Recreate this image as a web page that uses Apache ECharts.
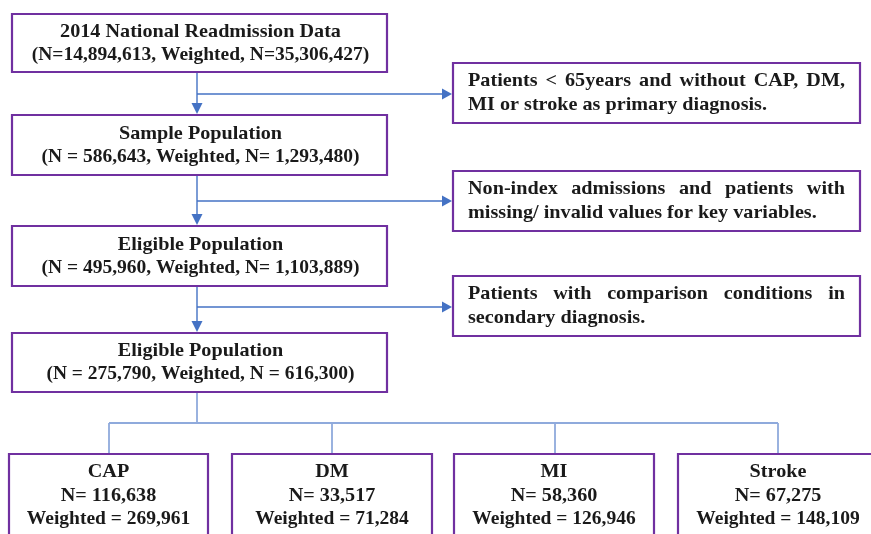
<!DOCTYPE html>
<html><head><meta charset="utf-8">
<script src="https://cdn.jsdelivr.net/npm/echarts@6/dist/echarts.min.js"></script>
<style>html,body{margin:0;padding:0;background:#fff}#c{width:871px;height:534px}</style>
</head><body><div id="c"></div>
<script>
// ---- content ----
const mainTitles = ['2014 National Readmission Data', 'Sample Population', 'Eligible Population', 'Eligible Population'];
const mainCounts = ['(N=14,894,613, Weighted, N=35,306,427)', '(N = 586,643, Weighted, N= 1,293,480)', '(N = 495,960, Weighted, N= 1,103,889)', '(N = 275,790, Weighted, N = 616,300)'];
const exclusionLines = [
  ['Patients < 65years and without CAP, DM,', 'MI or stroke as primary diagnosis.'],
  ['Non-index admissions and patients with', 'missing/ invalid values for key variables.'],
  ['Patients with comparison conditions in', 'secondary diagnosis.']
];
const groups = ['CAP', 'DM', 'MI', 'Stroke'];
const groupN = ['N= 116,638', 'N= 33,517', 'N= 58,360', 'N= 67,275'];
const groupWeighted = ['Weighted = 269,961', 'Weighted = 71,284', 'Weighted = 126,946', 'Weighted = 148,109'];

// ---- layout ----
const PURPLE = '#7030A0', BLUE = '#4472C4', LIGHT = '#8FAADC', TXT = '#1a1a1a';
const FONT = '"Liberation Serif", "Times New Roman", serif';
const FS = 19.5, SX = 1.035;
const mainBoxes = [[12, 14, 375, 58], [12, 115, 375, 60], [12, 226, 375, 60], [12, 333, 375, 59]];
const sideBoxes = [[453, 63, 407, 60], [453, 171, 407, 60], [453, 276, 407, 60]];
const bottomBoxes = [[9, 454, 199, 90], [232, 454, 200, 90], [454, 454, 200, 90], [678, 454, 200, 90]];
const branchY = [94, 201, 307];
const lineX = 197;

const cv = document.createElement('canvas').getContext('2d');
function measure(t, fs) { cv.font = 'bold ' + fs + 'px "Liberation Serif"'; return cv.measureText(t).width * SX; }

const els = [];
function rect(b) {
  els.push({ type: 'rect', shape: { x: b[0], y: b[1], width: b[2], height: b[3] }, style: { fill: '#fff', stroke: PURPLE, lineWidth: 2.2 }, z: 2 });
}
function line(x1, y1, x2, y2, c, w) {
  els.push({ type: 'line', shape: { x1, y1, x2, y2 }, style: { stroke: c, lineWidth: w || 1.4 }, z: 1 });
}
function tri(pts) { els.push({ type: 'polygon', shape: { points: pts }, style: { fill: BLUE }, z: 3 }); }
function text(t, x, y, align, fs, sx) {
  els.push({ type: 'text', x, y, scaleX: sx || SX, style: { text: t, fill: TXT, font: 'bold ' + (fs || FS) + 'px ' + FONT, textAlign: align || 'center', textVerticalAlign: 'middle' }, z: 4 });
}
function justified(t, x0, x1, y, fs) {
  const words = t.split(' ');
  const ws = words.map(w => measure(w, fs));
  const total = ws.reduce((a, b) => a + b, 0);
  const gap = (x1 - x0 - total) / (words.length - 1);
  let x = x0;
  words.forEach((w, i) => { text(w, x, y, 'left', fs); x += ws[i] + gap; });
}

// main boxes
mainBoxes.forEach((b, i) => {
  rect(b);
  const cx = b[0] + b[2] / 2 + 1;
  text(mainTitles[i], cx, b[1] + b[3] * 0.31);
  text(mainCounts[i], cx, b[1] + b[3] * 0.70, 'center', FS, 1.0);
});
// vertical arrows between main boxes + side branches
for (let i = 0; i < 3; i++) {
  const yTop = mainBoxes[i][1] + mainBoxes[i][3] + 1;
  const yBot = mainBoxes[i + 1][1] - 1;
  line(lineX, yTop, lineX, yBot - 8, BLUE);
  tri([[lineX - 5.5, yBot - 11], [lineX + 5.5, yBot - 11], [lineX, yBot]]);
  line(lineX, branchY[i], 443, branchY[i], BLUE);
  tri([[442, branchY[i] - 5.5], [442, branchY[i] + 5.5], [452, branchY[i]]]);
}
// side boxes
const FS2 = 19.5;
sideBoxes.forEach((b, i) => {
  rect(b);
  justified(exclusionLines[i][0], 468, 845, b[1] + 18, FS2);
  text(exclusionLines[i][1], 468, b[1] + 42, 'left', FS2);
});
// bottom connectors
const botMid = [109, 332, 555, 778];
line(lineX, 393, lineX, 423, LIGHT, 1.8);
line(botMid[0], 423, botMid[3], 423, LIGHT, 1.8);
botMid.forEach(x => line(x, 423, x, 454, LIGHT, 1.8));
// bottom boxes
bottomBoxes.forEach((b, i) => {
  rect(b);
  const cx = (i === 3) ? 778 : b[0] + b[2] / 2;
  text(groups[i], cx, 472, 'center', 19.5);
  text(groupN[i], cx, 496, 'center', 19.5);
  text(groupWeighted[i], cx, 519, 'center', 19.5, 1.0);
});

const chart = echarts.init(document.getElementById('c'), null, { renderer: 'canvas' });
chart.setOption({ backgroundColor: '#fff', graphic: { elements: els } });
</script></body></html>
